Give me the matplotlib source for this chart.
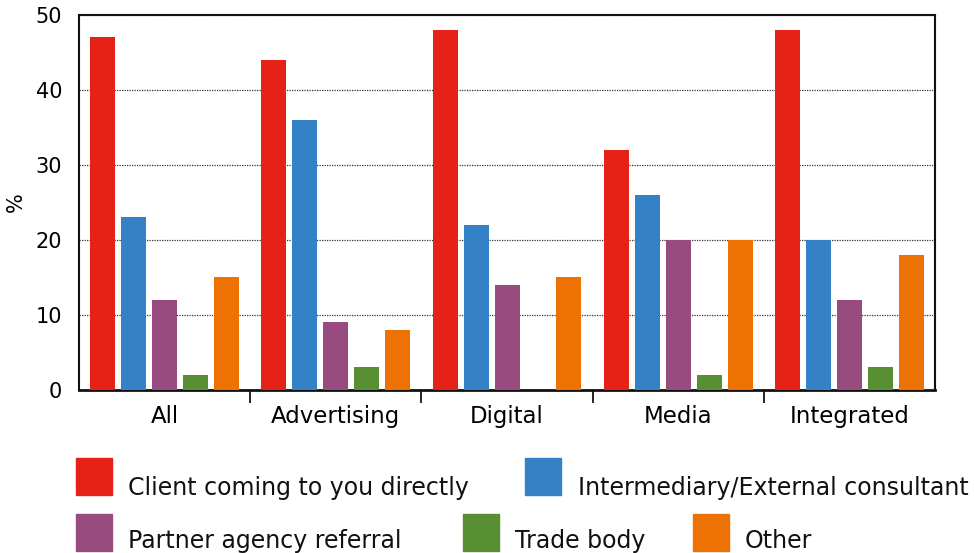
import numpy as np
import matplotlib
matplotlib.use('Agg')
import matplotlib.pyplot as plt
from matplotlib.patches import Rectangle

plt.rcParams['font.family'] = ['DejaVu Sans']

groups = ['All', 'Advertising', 'Digital', 'Media', 'Integrated']
series = ['Client coming to you directly', 'Intermediary/External consultant',
          'Partner agency referral', 'Trade body', 'Other']
client = [47, 44, 48, 32, 48]
intermediary = [23, 36, 22, 26, 20]
partner = [12, 9, 14, 20, 12]
trade = [2, 3, 0, 2, 3]
other = [15, 8, 15, 20, 18]
colors = ['#E62216', '#3481C6', '#974B7E', '#588F32', '#EE7203']

values = [client, intermediary, partner, trade, other]

fig = plt.figure(figsize=(9.74, 5.53), dpi=100)
ax = fig.add_axes([0.0811, 0.2948, 0.8789, 0.6781])

x = np.arange(len(groups))
step = 0.181
width = 0.146
for i, vals in enumerate(values):
    ax.bar(x + (i - 2) * step, vals, width, color=colors[i], zorder=3)

ax.set_xlim(-0.5, len(groups) - 0.5)
ax.set_ylim(0, 50)
ax.set_yticks([0, 10, 20, 30, 40, 50])
ax.set_xticks(x)
ax.set_xticklabels(groups, fontsize=16.5)
ax.set_xticks(np.arange(0.5, len(groups) - 0.5, 1), minor=True)
ax.tick_params(axis='x', which='major', length=0, pad=11)
ax.tick_params(axis='x', which='minor', length=9, width=1.2, direction='out')
ax.tick_params(axis='y', length=0, labelsize=15, pad=12)

ax.yaxis.grid(True, linestyle=(0, (1, 1)), color='#333333', linewidth=0.9, zorder=0)
for s in ax.spines.values():
    s.set_linewidth(1.5)
    s.set_color('#111111')
ax.spines['bottom'].set_linewidth(2)

ax.set_ylabel('%', fontsize=15)
ax.yaxis.set_label_coords(-0.062, 0.50)

# legend drawn by hand: two flowing rows
rows = [
    [(0, 76, 128), (1, 525, 578)],
    [(2, 76, 128), (3, 463, 515), (4, 693, 745)],
]
row_top = [458, 514]
row_base = [495, 548]
W, H = 974, 553
for r, entries in enumerate(rows):
    for idx, px, tx in entries:
        y0 = row_top[r]
        fig.add_artist(Rectangle((px / W, 1 - (y0 + 37) / H), 36 / W, 37 / H,
                                 transform=fig.transFigure, color=colors[idx]))
        fig.text(tx / W, 1 - row_base[r] / H, series[idx], fontsize=17,
                 va='baseline', ha='left', color='#111111')

fig.savefig('out.png', dpi=100)
